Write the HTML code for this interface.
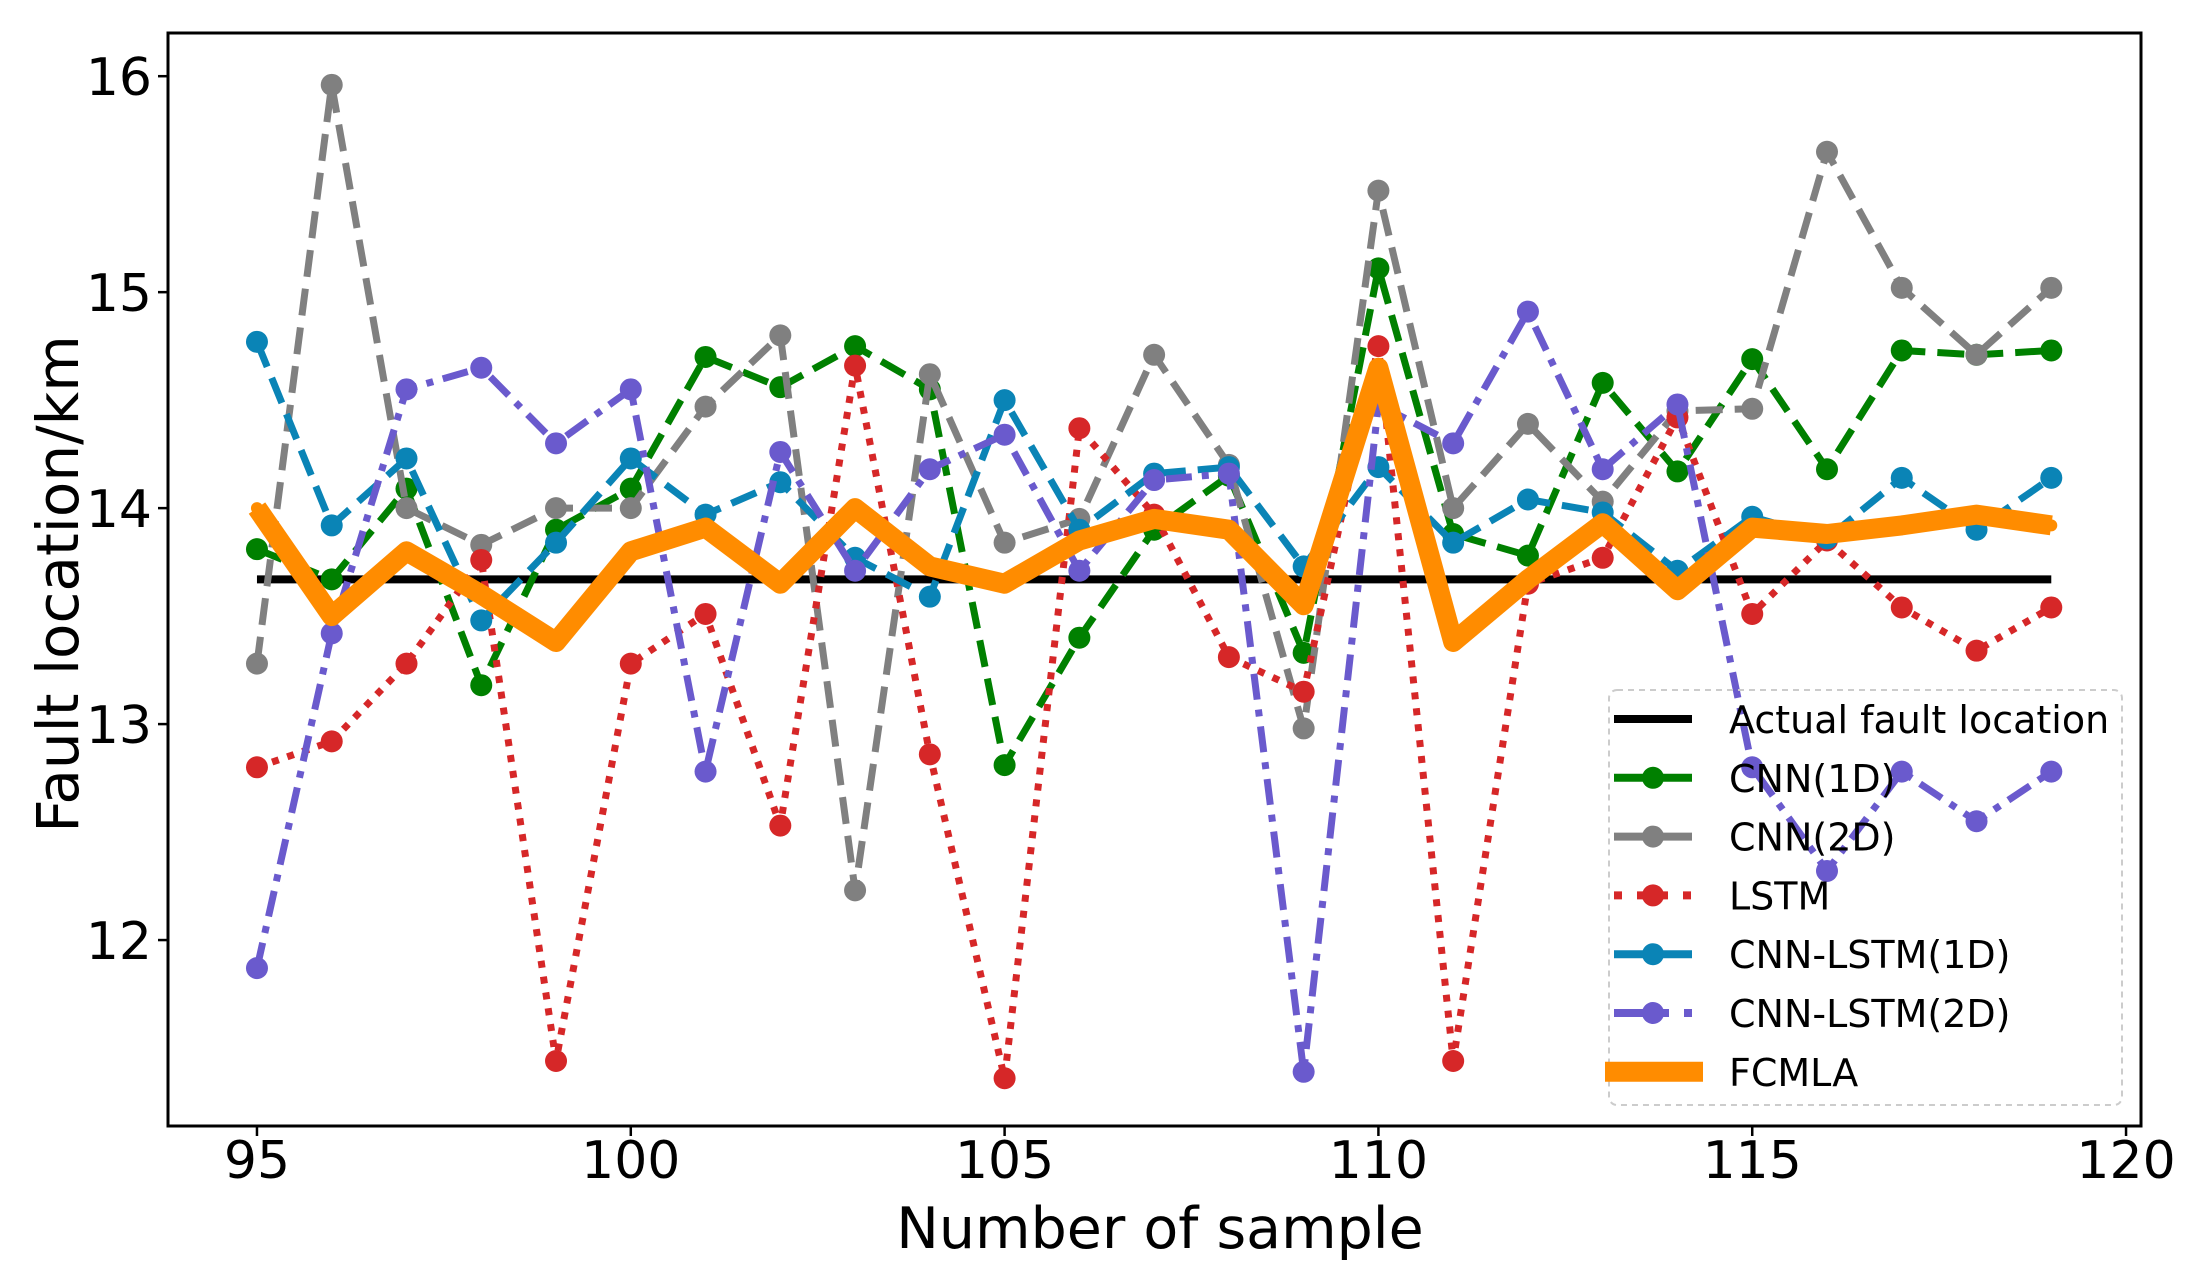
<!DOCTYPE html>
<html><head><meta charset="utf-8"><style>
html,body{margin:0;padding:0;background:#fff;}
svg{display:block;font-family:"DejaVu Sans","Liberation Sans",sans-serif;}
</style></head><body>
<svg id="chart" width="2196" height="1281" viewBox="0 0 2196 1281" xmlns="http://www.w3.org/2000/svg">
<g id="plot"></g>
<g id="axes"></g>
<g id="legend"></g>
</svg>
<script>
const samples=[95,96,97,98,99,100,101,102,103,104,105,106,107,108,109,110,111,112,113,114,115,116,117,118,119];
const actualValue=13.67;
const cnn1d=[13.81,13.67,14.09,13.18,13.90,14.09,14.70,14.56,14.75,14.55,12.81,13.40,13.90,14.15,13.33,15.11,13.88,13.78,14.58,14.17,14.69,14.18,14.73,14.71,14.73];
const cnn2d=[13.28,15.96,14.00,13.83,14.00,14.00,14.47,14.80,12.23,14.62,13.84,13.95,14.71,14.20,12.98,15.47,14.00,14.39,14.03,14.45,14.46,15.65,15.02,14.71,15.02];
const lstm=[12.80,12.92,13.28,13.76,11.44,13.28,13.51,12.53,14.66,12.86,11.36,14.37,13.97,13.31,13.15,14.75,11.44,13.65,13.77,14.42,13.51,13.85,13.54,13.34,13.54];
const cnnLstm1d=[14.77,13.92,14.23,13.48,13.84,14.23,13.97,14.12,13.77,13.59,14.50,13.90,14.16,14.19,13.73,14.19,13.84,14.04,13.98,13.71,13.96,13.86,14.14,13.90,14.14];
const cnnLstm2d=[11.87,13.42,14.55,14.65,14.30,14.55,12.78,14.26,13.71,14.18,14.34,13.71,14.13,14.16,11.39,14.48,14.30,14.91,14.18,14.48,12.80,12.32,12.78,12.55,12.78];
const fcmla=[14.00,13.50,13.80,13.60,13.38,13.80,13.91,13.65,14.00,13.73,13.65,13.85,13.95,13.90,13.55,14.65,13.38,13.67,13.93,13.62,13.91,13.88,13.92,13.97,13.92];
const xTicks=[95,100,105,110,115,120];
const yTicks=[12,13,14,15,16];

const NS="http://www.w3.org/2000/svg";
const L=168,R=2141,T=33,B=1126;
const xMin=93.81,xMax=120.2,yMin=11.139,yMax=16.2;
function xs(v){return L+(v-xMin)/(xMax-xMin)*(R-L);}
function ys(v){return B-(v-yMin)/(yMax-yMin)*(B-T);}
function mk(tag,attrs,parent){const e=document.createElementNS(NS,tag);for(const k in attrs)e.setAttribute(k,attrs[k]);parent.appendChild(e);return e;}

const plot=document.getElementById('plot');
const axes=document.getElementById('axes');
const legend=document.getElementById('legend');

const defs=mk('defs',{},plot);
const cp=mk('clipPath',{id:'clip'},defs);
mk('rect',{x:L,y:T,width:R-L,height:B-T},cp);
const clipG=mk('g',{'clip-path':'url(#clip)'},plot);

const actual=mk('line',{x1:xs(samples[0]),x2:xs(samples[samples.length-1]),y1:ys(actualValue),y2:ys(actualValue),stroke:'#000','stroke-width':8},clipG);



const series=[
 {name:'cnn-1d',vals:cnn1d,color:'#008000',dash:'27 12',w:7},
 {name:'cnn-2d',vals:cnn2d,color:'#808080',dash:'27 12',w:7},
 {name:'lstm',vals:lstm,color:'#d62728',dash:'7 9',w:7},
 {name:'cnn-lstm-1d',vals:cnnLstm1d,color:'#0a84b6',dash:'27 12',w:7},
 {name:'cnn-lstm-2d',vals:cnnLstm2d,color:'#6a5acd',dash:'26 10 7 10',w:7},
 {name:'fcmla',vals:fcmla,color:'#ff8c00',dash:'',w:20}
];
series.forEach(s=>{
  const g=mk('g',{},clipG);
  
  
  const pts=samples.map((x,i)=>xs(x).toFixed(1)+','+ys(s.vals[i]).toFixed(1)).join(' ');
  const pl=mk('polyline',{points:pts,fill:'none',stroke:s.color,'stroke-width':s.w,'stroke-linejoin':'round'},g);
  if(s.dash)pl.setAttribute('stroke-dasharray',s.dash);
  
  
  samples.forEach((x,i)=>{
    const c=mk('circle',{cx:xs(x),cy:ys(s.vals[i]),r:s.name==='fcmla'?6:11,fill:s.color},g);
    
    
  });
});

const frame=mk('rect',{x:L,y:T,width:R-L,height:B-T,fill:'none',stroke:'#000','stroke-width':3},axes);



xTicks.forEach(t=>{
  const x=xs(t);
  const tk=mk('line',{x1:x,x2:x,y1:B,y2:B+10,stroke:'#000','stroke-width':2.5},axes);
  
  
  const tx=mk('text',{x:x,y:1178,'text-anchor':'middle','font-size':52,fill:'#000'},axes);
  tx.textContent=t;
  
  
});
yTicks.forEach(t=>{
  const y=ys(t);
  const tk=mk('line',{x1:L-10,x2:L,y1:y,y2:y,stroke:'#000','stroke-width':2.5},axes);
  
  
  const tx=mk('text',{x:152,y:y+19,'text-anchor':'end','font-size':52,fill:'#000'},axes);
  tx.textContent=t;
  
  
});
const xl=mk('text',{x:1160,y:1248,'text-anchor':'middle','font-size':57,fill:'#000'},axes);
xl.textContent='Number of sample';


const yl=mk('text',{x:0,y:0,'text-anchor':'middle','font-size':58,fill:'#000',transform:'translate(78,584) rotate(-90)'},axes);
yl.textContent='Fault location/km';



const lb=mk('rect',{x:1609,y:690,width:513,height:415,rx:8,fill:'none',stroke:'#cccccc','stroke-width':2,'stroke-dasharray':'6 5'},legend);


const legendItems=[
 {label:'Actual fault location',color:'#000',dash:'',w:8,m:0},
 {label:'CNN(1D)',color:'#008000',dash:'',w:8,m:11},
 {label:'CNN(2D)',color:'#808080',dash:'',w:8,m:11},
 {label:'LSTM',color:'#d62728',dash:'8 15',w:8,m:11},
 {label:'CNN-LSTM(1D)',color:'#0a84b6',dash:'',w:8,m:11},
 {label:'CNN-LSTM(2D)',color:'#6a5acd',dash:'55 15 8 15',w:8,m:11},
 {label:'FCMLA',color:'#ff8c00',dash:'',w:20,m:6}
];
legendItems.forEach((it,i)=>{
  const y=719+i*58.8;
  const g=mk('g',{},legend);
  
  
  const x1=it.w>10?1605:1614, x2=it.w>10?1703:1692;
  const ln=mk('line',{x1:x1,x2:x2,y1:y,y2:y,stroke:it.color,'stroke-width':it.w},g);
  if(it.dash)ln.setAttribute('stroke-dasharray',it.dash);
  if(it.m)mk('circle',{cx:1653,cy:y,r:it.m,fill:it.color},g);
  const tx=mk('text',{x:1729,y:y+14,'font-size':38,fill:'#000'},g);
  tx.textContent=it.label;
});
</script>
</body></html>
